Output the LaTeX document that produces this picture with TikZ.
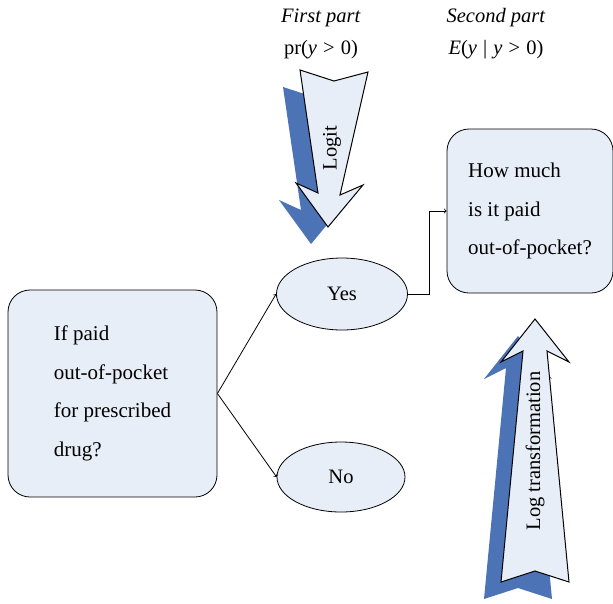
\documentclass[tikz,border=0pt]{standalone}
\usepackage{fontspec}
\setmainfont{Liberation Serif}
\usetikzlibrary{shapes.geometric,arrows}
\definecolor{boxfill}{HTML}{E8EEF7}
\definecolor{shadeblue}{HTML}{4C73B6}
\newcommand{\logitpath}{(300,70) -- (334,81) -- (368,72) -- (340,195) -- (363,185) -- (328,227) -- (296,183) -- (318,193) -- cycle}
\newcommand{\logpath}{(535,319) -- (569,362) -- (547,351) -- (569,582) -- (535,571) -- (501,582) -- (523,351) -- (501,362) -- cycle}
\newcommand{\gap}{\hspace{0.3em}}
\tikzset{
    node style box/.style={draw,rounded corners=22pt,fill=boxfill,align=left,font=\fontsize{21}{38.5}\selectfont},
    node style ell/.style={draw,ellipse,fill=boxfill,inner sep=0pt,font=\fontsize{20.5}{24}\selectfont},
    node style head/.style={font=\fontsize{20.5}{24}\selectfont},
    arrow style big/.style={draw,fill=boxfill,line width=1pt},
    arrow style shade/.style={fill=shadeblue,shift={(-17,17)}},
}

\begin{document}
\begin{tikzpicture}[x=1pt,y=-1pt,>=to,line width=0.8pt]
\useasboundingbox (0,0) rectangle (613,603);

% headings
\node[node style head] (first) at (321,18) {\textit{First part}};
\node[node style head] (second) at (496,18) {\textit{Second part}};
\node[node style head] (pr) at (321,50) {pr(\textit{y}\gap>\gap0)};
\node[node style head] (ey) at (496,50) {\textit{E}(\textit{y}\gap|\gap\textit{y}\gap>\gap0)};

% big arrows
\fill[arrow style shade] \logitpath;
\path[arrow style big] \logitpath;
\node[rotate=90,node style head] (logit) at (332,148) {Logit};

\fill[arrow style shade] \logpath;
\path[arrow style big] \logpath;
\node[rotate=90,node style head] (logtr) at (535,451) {Log transformation};

% nodes
\node[node style box,minimum width=209pt,minimum height=207pt] (ask) at (112.5,393.5)
     {If paid\\out-of-pocket\\for prescribed\\drug?};
\node[node style ell,minimum width=131pt,minimum height=72pt] (yes) at (342,294) {Yes};
\node[node style ell,minimum width=128pt,minimum height=70pt] (no) at (341,477) {No};
\node[node style box,minimum width=166pt,minimum height=164pt] (how) at (530,211)
     {How much\\is it paid\\out-of-pocket?};

% connectors
\draw[->] (ask.east) -- (yes.west);
\draw[->] (ask.east) -- (no.west);
\draw[->] (yes.east) -- ++(21,0) |- (how.west);

\end{tikzpicture}
\end{document}
